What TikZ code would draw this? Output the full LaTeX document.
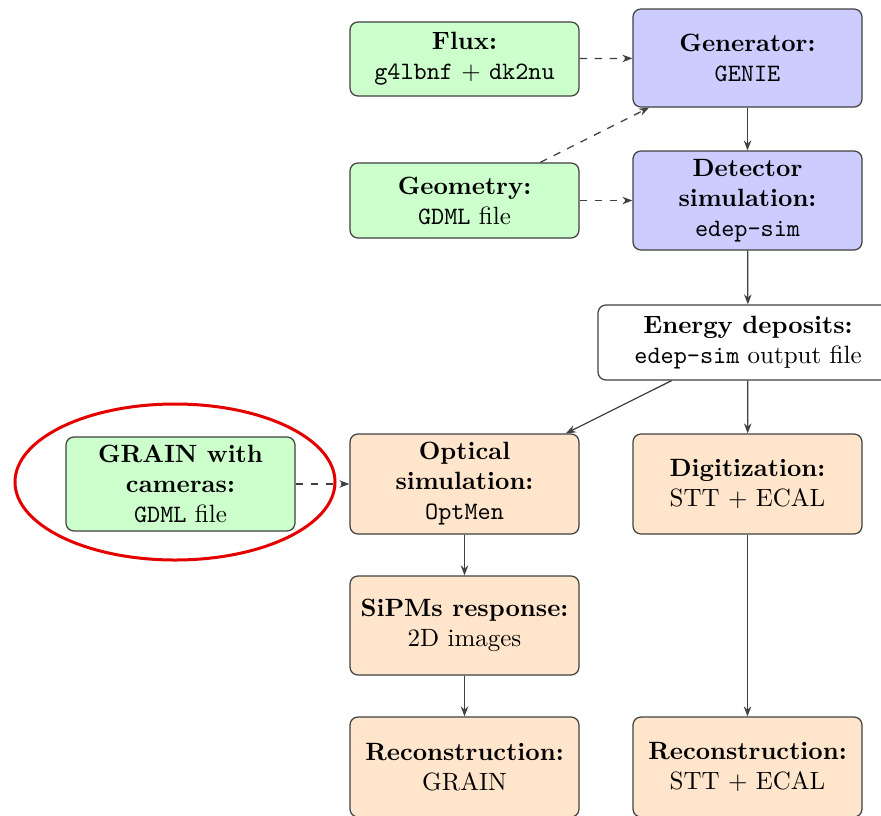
\documentclass[tikz,border=0pt]{standalone}
\usetikzlibrary{arrows.meta}
\begin{document}
\begin{tikzpicture}[x=0.4pt,y=-0.4pt,
  box/.style={draw=black!75, line width=0.5pt, rounded corners=3.2pt, align=center, inner sep=2pt, minimum width=91.6pt},
  gbox/.style={box, fill=green!20},
  bbox/.style={box, fill=blue!20},
  obox/.style={box, fill=orange!20},
  wbox/.style={box, fill=white},
  arr/.style={-{Stealth[length=4pt,width=3pt]}, draw=black!75, line width=0.5pt},
  darr/.style={arr, dashed}]
\useasboundingbox (0,0) rectangle (881,815);
\clip (0,0) rectangle (881,815);
\node[gbox, minimum height=29.6pt] (flux) at (464.5,59) {\textbf{Flux:}\\\texttt{g4lbnf} + \texttt{dk2nu}};
\node[bbox, minimum height=39.2pt] (gen) at (747.5,58) {\textbf{Generator:}\\\texttt{GENIE}};
\node[gbox, minimum height=30pt] (geom) at (464.5,200.5) {\textbf{Geometry:}\\\texttt{GDML} file};
\node[bbox, minimum height=39.6pt] (det) at (747.5,200.5) {\textbf{Detector}\\\textbf{simulation:}\\\texttt{edep-sim}};
\node[wbox, minimum width=120pt, minimum height=30pt] (edep) at (748,342.5) {\textbf{Energy deposits:}\\\texttt{edep-sim} output file};
\node[gbox, minimum height=37.6pt] (grain) at (180.5,484) {\textbf{GRAIN with}\\\textbf{cameras:}\\\texttt{GDML} file};
\node[obox, minimum height=40pt] (opt) at (464.5,484) {\textbf{Optical}\\\textbf{simulation:}\\\texttt{OptMen}};
\node[obox, minimum height=40pt] (dig) at (747.5,484) {\textbf{Digitization:}\\STT + ECAL};
\node[obox, minimum height=39.6pt] (sipm) at (464.5,625.5) {\textbf{SiPMs response:}\\2D images};
\node[obox, minimum height=40pt] (recog) at (464.5,767) {\textbf{Reconstruction:}\\GRAIN};
\node[obox, minimum height=40pt] (recos) at (747.5,767) {\textbf{Reconstruction:}\\STT + ECAL};
\draw[darr] (flux) -- (gen);
\draw[darr] (geom) -- (gen);
\draw[darr] (geom) -- (det);
\draw[arr] (gen) -- (det);
\draw[arr] (det) -- (edep);
\draw[arr] (edep) -- (opt);
\draw[arr] (edep) -- (dig);
\draw[darr] (grain) -- (opt);
\draw[arr] (opt) -- (sipm);
\draw[arr] (sipm) -- (recog);
\draw[arr] (dig) -- (recos);
\draw[red!90!black, line width=1.2pt] (175,482) ellipse [x radius=64pt, y radius=31.2pt];
\end{tikzpicture}
\end{document}
